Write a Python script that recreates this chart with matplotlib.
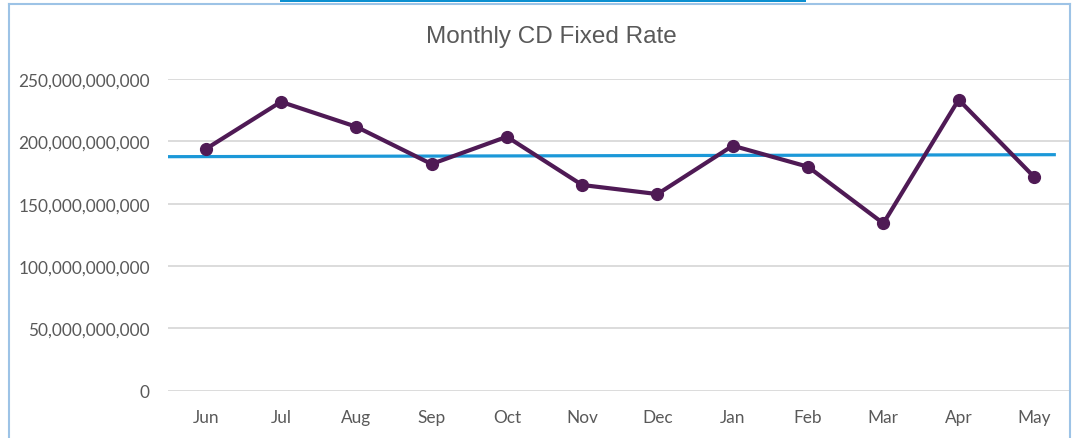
import matplotlib
matplotlib.use("Agg")
import matplotlib.pyplot as plt
import numpy as np
from matplotlib.ticker import FuncFormatter, FixedLocator
from matplotlib.lines import Line2D
from matplotlib.patches import Rectangle

months = ["Jun", "Jul", "Aug", "Sep", "Oct", "Nov", "Dec", "Jan", "Feb", "Mar", "Apr", "May"]
values = [193.8e9, 231.7e9, 211.7e9, 181.8e9, 203.7e9, 165.0e9,
          157.7e9, 196.5e9, 179.6e9, 134.2e9, 233.4e9, 171.6e9]
# trend line as drawn in the reference (start / end)
trend_x = [-0.49, 11.27]
trend_y = [187.7e9, 189.3e9]
y_ticks = [0, 50e9, 100e9, 150e9, 200e9, 250e9]
title = "Monthly CD Fixed Rate"

W, H = 1081, 439
fig = plt.figure(figsize=(W / 100, H / 100), dpi=100)
fig.patch.set_facecolor("white")

def fx(px):
    return px / W

def fy(py):
    return 1 - py / H

ax_left, ax_right, ax_top, ax_bottom = 168, 1070, 80, 391.7
ax = fig.add_axes([fx(ax_left), fy(ax_bottom), fx(ax_right - ax_left), (ax_bottom - ax_top) / H])

x = np.arange(len(months))
ax.set_xlim(-0.5, -0.5 + (ax_right - ax_left) / 75.3)
ax.set_ylim(0, 250e9)

ax.yaxis.set_major_locator(FixedLocator(y_ticks))
ax.grid(axis="y", color="#D9D9D9", linewidth=1.3)
ax.set_axisbelow(True)
for s in ax.spines.values():
    s.set_visible(False)

ax.plot(trend_x, trend_y, color="#1B98D8", linewidth=2.3, zorder=2)

ax.plot(x, values, color="#4F1A55", linewidth=3.0, marker="o", markersize=8.5,
        zorder=3, solid_capstyle="round")

ax.set_xticks(x)
ax.set_xticklabels(months)
ax.yaxis.set_major_formatter(FuncFormatter(lambda v, p: f"{v:,.0f}"))
ax.tick_params(axis="both", length=0, labelcolor="#595959", labelsize=12.4)
ax.tick_params(axis="y", pad=13)
ax.tick_params(axis="x", pad=13)
for lbl in ax.get_xticklabels() + ax.get_yticklabels():
    lbl.set_family(["Lato", "DejaVu Sans"])

fig.text(fx(551), fy(37), title, ha="center", va="center", fontsize=17.5,
         color="#595959", family=["Liberation Sans", "DejaVu Sans"])

bc = "#9DC3E6"
fig.add_artist(Line2D([fx(9), fx(9)], [0, fy(5)], color=bc, linewidth=1.5))
fig.add_artist(Line2D([fx(9), fx(1070)], [fy(5), fy(5)], color=bc, linewidth=1.5))
fig.add_artist(Line2D([fx(1070), fx(1070)], [0, fy(5)], color=bc, linewidth=1.5))

fig.add_artist(Rectangle((fx(280), fy(3)), fx(806 - 280), 3 / H, color="#0B8FD0",
                         transform=fig.transFigure, linewidth=0))

fig.savefig("out.png", dpi=100, facecolor="white")
